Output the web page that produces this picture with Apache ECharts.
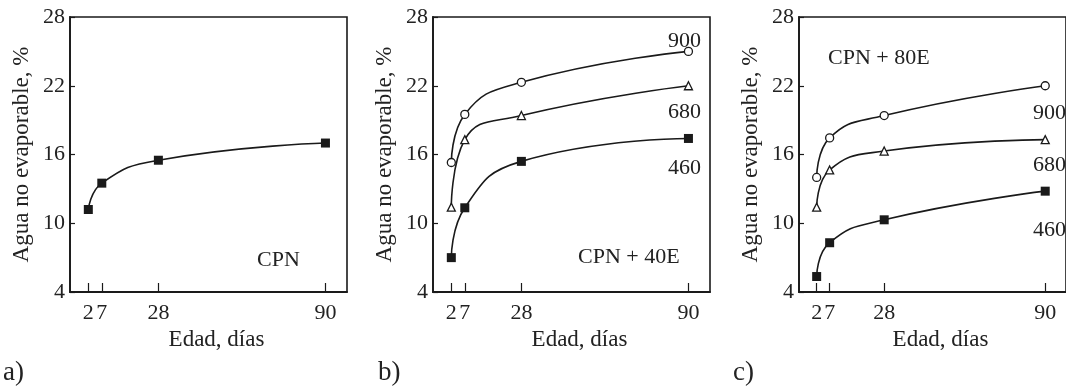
<!DOCTYPE html>
<html>
<head>
<meta charset="utf-8">
<script src="https://cdn.jsdelivr.net/npm/echarts@6/dist/echarts.min.js"></script>
<style>
html,body{margin:0;padding:0;background:#fff;}
#c{width:1066px;height:387px;}
</style>
</head>
<body>
<div id="c"></div>
<script>
// ---- data ----
var ages = [2, 7, 28, 90];
var yTicks = [4, 10, 16, 22, 28];
// panel a) CPN
var cpn = [11.2, 13.5, 15.5, 17.0];
// panel b) CPN + 40E
var b900 = [15.3, 19.5, 22.3, 25.0];
var b680 = [11.4, 17.3, 19.4, 22.0];
var b460 = [7.0, 11.35, 15.4, 17.4];
// panel c) CPN + 80E
var c900 = [14.0, 17.45, 19.4, 22.0];
var c680 = [11.4, 14.65, 16.3, 17.3];
var c460 = [5.35, 8.3, 10.3, 12.8];
var panelTitles = ['CPN', 'CPN + 40E', 'CPN + 80E'];
var panelLetters = ['a)', 'b)', 'c)'];
var seriesNames = ['900', '680', '460'];
var xName = 'Edad, días';
var yName = 'Agua no evaporable, %';

function pts(vals) { return ages.map(function (a, i) { return [a, vals[i]]; }); }

var FONT = 'Liberation Serif';
var TXT = '#222';
var LINE = '#1a1a1a';

var lefts = [70, 433, 799];
var grids = lefts.map(function (l) {
  return { left: l, width: 277, top: 17, height: 275, show: true, borderColor: LINE, borderWidth: 1.6, backgroundColor: 'transparent' };
});

var xAxes = [0, 1, 2].map(function (i) {
  return {
    type: 'value', gridIndex: i, min: -4.8, max: 98,
    name: xName, nameLocation: 'middle', nameGap: 34,
    nameTextStyle: { fontFamily: FONT, fontSize: 23, color: TXT, padding: [0, 0, 0, 16] },
    axisLine: { show: true, onZero: false, lineStyle: { color: LINE, width: 1.8 } },
    axisTick: { show: true, inside: true, length: 9, customValues: ages, lineStyle: { color: LINE, width: 1.2 } },
    axisLabel: { customValues: ages, fontFamily: FONT, fontSize: 22, color: TXT, margin: 10 },
    splitLine: { show: false }
  };
});

var yAxes = [0, 1, 2].map(function (i) {
  return {
    type: 'value', gridIndex: i, min: 4, max: 28, interval: 6,
    name: yName, nameLocation: 'middle', nameGap: 37, nameRotate: 90,
    nameTextStyle: { fontFamily: FONT, fontSize: 23, color: TXT },
    axisLine: { show: true, onZero: false, lineStyle: { color: LINE, width: 1.8 } },
    axisTick: { show: true, inside: true, length: 5, lineStyle: { color: LINE, width: 1.2 } },
    axisLabel: { fontFamily: FONT, fontSize: 22, color: TXT, margin: 5 },
    splitLine: { show: false }
  };
});

function mk(name, vals, idx, sym) {
  var filled = sym === 'rect';
  return {
    name: name, type: 'line', xAxisIndex: idx, yAxisIndex: idx,
    data: pts(vals), smooth: 0.5,
    symbol: sym, symbolSize: sym === 'rect' ? 9 : 8,
    lineStyle: { color: LINE, width: 1.6 },
    itemStyle: { color: filled ? LINE : '#fff', borderColor: LINE, borderWidth: filled ? 0 : 1.3 },
    emphasis: { disabled: true }, z: 3
  };
}

var series = [
  mk('CPN', cpn, 0, 'rect'),
  mk('900', b900, 1, 'circle'),
  mk('680', b680, 1, 'triangle'),
  mk('460', b460, 1, 'rect'),
  mk('900', c900, 2, 'circle'),
  mk('680', c680, 2, 'triangle'),
  mk('460', c460, 2, 'rect')
];

function txt(x, y, s, align, size) {
  return { type: 'text', x: x, y: y, style: { text: s, fontFamily: FONT, fontSize: size || 22, fill: TXT, textAlign: align || 'left', textVerticalAlign: 'middle' } };
}

var graphics = [
  txt(257, 260, panelTitles[0]),
  txt(578, 257, panelTitles[1]),
  txt(828, 58, panelTitles[2]),
  txt(3, 373, panelLetters[0], 'left', 27),
  txt(378, 373, panelLetters[1], 'left', 27),
  txt(733, 373, panelLetters[2], 'left', 27),
  txt(701, 41, seriesNames[0], 'right'),
  txt(701, 112, seriesNames[1], 'right'),
  txt(701, 168, seriesNames[2], 'right'),
  txt(1066, 113, seriesNames[0], 'right'),
  txt(1066, 165, seriesNames[1], 'right'),
  txt(1066, 230, seriesNames[2], 'right')
];

var chart = echarts.init(document.getElementById('c'), null, { renderer: 'canvas' });
chart.setOption({
  animation: false,
  backgroundColor: '#fff',
  grid: grids,
  xAxis: xAxes,
  yAxis: yAxes,
  series: series,
  graphic: graphics
});
</script>
</body>
</html>
